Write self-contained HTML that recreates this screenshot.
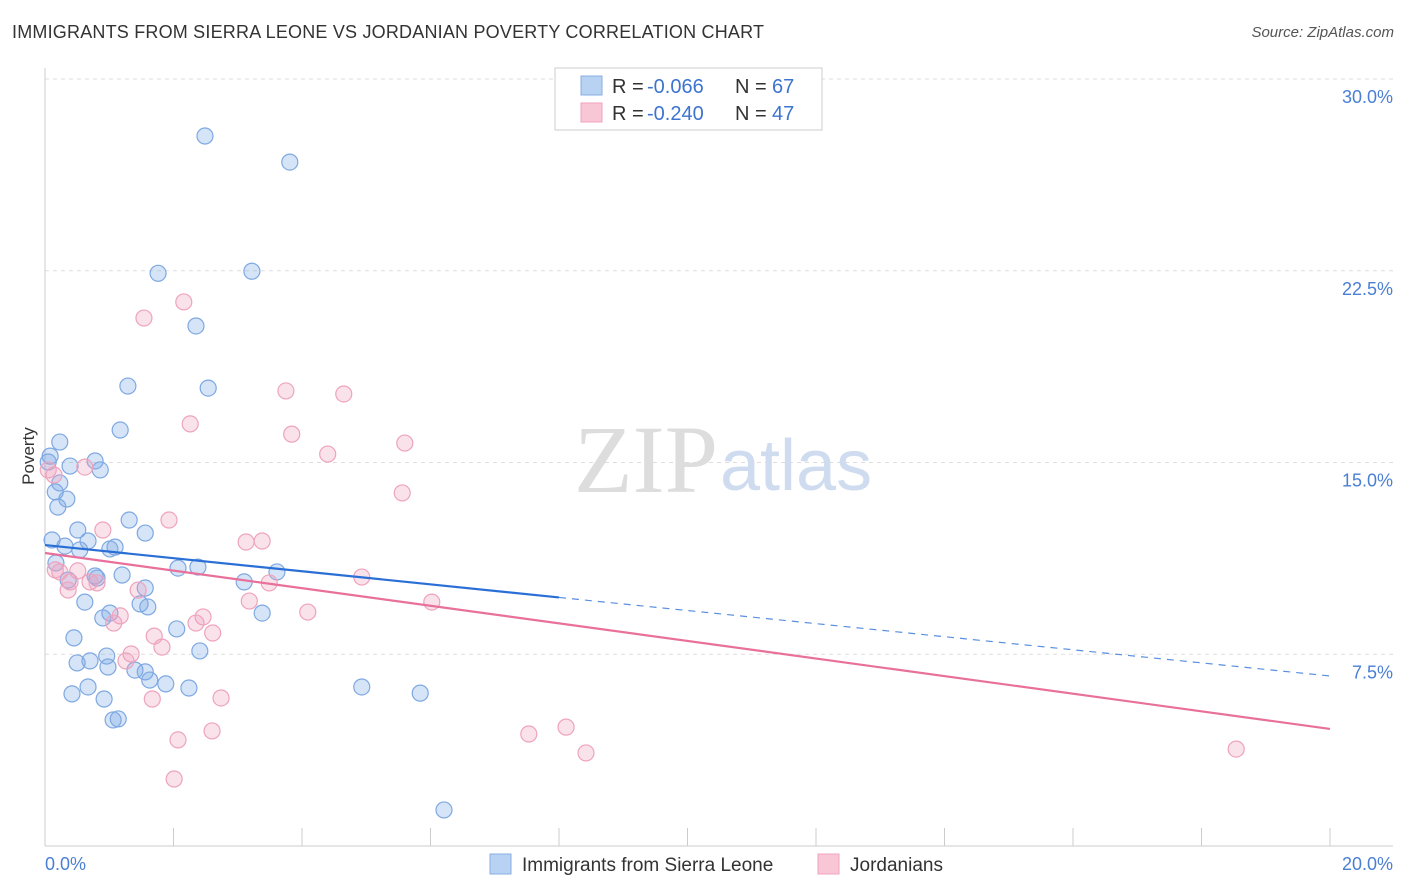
<!DOCTYPE html>
<html><head><meta charset="utf-8">
<style>
body{margin:0;background:#fff;font-family:"Liberation Sans",sans-serif;}
#wrap{position:relative;width:1406px;height:892px;overflow:hidden;}
.t{position:absolute;white-space:nowrap;}
</style></head>
<body>
<div id="wrap">
<div class="t" style="left:12px;top:22px;font-size:18px;color:#333;letter-spacing:0.2px">IMMIGRANTS FROM SIERRA LEONE VS JORDANIAN POVERTY CORRELATION CHART</div>
<div class="t" style="right:12px;top:24px;font-size:15px;color:#555;font-style:italic">Source: ZipAtlas.com</div>
<svg id="svg" width="1406" height="892" style="position:absolute;left:0;top:0"></svg>
</div>
<script>
const blueX=[2.49,3.81,1.76,3.22,2.35,1.29,2.54,1.17,0.23,0.08,0.05,0.78,0.39,0.86,0.23,0.16,0.34,0.20,1.31,0.51,1.56,0.11,0.67,0.31,1.09,1.01,0.54,0.17,2.07,2.38,1.20,0.78,0.81,0.36,3.10,3.61,1.56,0.62,1.48,1.60,1.01,0.90,3.38,2.05,0.45,2.41,0.96,0.50,0.70,0.98,1.40,1.56,1.63,1.88,0.67,2.24,0.42,4.93,5.84,0.92,1.14,1.06,6.21];
const blueY=[27.77,26.75,22.40,22.48,20.34,17.99,17.91,16.27,15.80,15.25,15.02,15.06,14.86,14.71,14.20,13.85,13.57,13.26,12.75,12.36,12.24,11.97,11.93,11.73,11.69,11.62,11.58,11.07,10.87,10.91,10.60,10.56,10.48,10.40,10.33,10.72,10.09,9.54,9.47,9.35,9.11,8.92,9.11,8.49,8.14,7.63,7.43,7.16,7.24,7.00,6.88,6.81,6.49,6.34,6.22,6.18,5.95,6.22,5.98,5.75,4.97,4.93,1.41];
const pinkX=[0.14,0.62,0.90,1.93,2.16,1.54,3.75,4.65,3.84,2.26,5.60,4.40,5.56,3.13,3.38,0.16,0.23,0.51,0.39,0.36,0.70,0.81,1.45,3.49,4.93,3.18,4.09,6.02,1.17,1.07,2.46,2.35,2.61,1.70,1.82,1.34,1.26,1.67,2.74,2.07,2.60,2.01,7.53,8.11,8.42,18.54,0.05];
const pinkY=[14.51,14.82,12.36,12.75,21.28,20.65,17.80,17.68,16.11,16.51,15.76,15.33,13.81,11.89,11.93,10.80,10.72,10.76,10.33,10.01,10.33,10.29,10.01,10.29,10.52,9.58,9.15,9.54,9.00,8.72,8.96,8.72,8.33,8.21,7.78,7.51,7.24,5.75,5.79,4.15,4.50,2.62,4.38,4.65,3.64,3.79,14.71];
const yTicks=[7.5,15,22.5,30];
const yTickLabels=["7.5%","15.0%","22.5%","30.0%"];
const xTicks=[0,2,4,6,8,10,12,14,16,18,20];
const blueTrend=[11.77,6.65]; const blueSolidEnd=8;
const pinkTrend=[11.46,4.58];

const X=v=>45+v/20*1285, Y=v=>846-v/30*767;
const svg=document.getElementById('svg');const NS='http://www.w3.org/2000/svg';
function mk(t,a,name){const e=document.createElementNS(NS,t);for(const k in a)e.setAttribute(k,a[k]);


svg.appendChild(e);return e;}
yTicks.forEach((v,i)=>{
mk('line',{x1:45,x2:1393,y1:Y(v),y2:Y(v),stroke:'#ddd','stroke-dasharray':'4,4'},'y-gridline');
const t=mk('text',{x:1393,y:Y(v)+24,'text-anchor':'end','font-size':18,fill:'#4a7fd4'},'y-tick-label');t.textContent=yTickLabels[i];});
mk('line',{x1:45,x2:45,y1:68,y2:846,stroke:'#ccc'},'y-axis');
mk('line',{x1:45,x2:1393,y1:846,y2:846,stroke:'#ccc'},'x-axis');
xTicks.forEach(v=>mk('line',{x1:X(v),x2:X(v),y1:828,y2:846,stroke:'#ccc'},'x-tick'));
let t=mk('text',{x:45,y:870,'font-size':18,fill:'#4a7fd4'},'x-tick-label');t.textContent='0.0%';
t=mk('text',{x:1393,y:870,'text-anchor':'end','font-size':18,fill:'#4a7fd4'},'x-tick-label');t.textContent='20.0%';
t=mk('text',{x:34,y:456,'font-size':17,fill:'#333','text-anchor':'middle',transform:'rotate(-90 34 456)'},'y-axis-title');t.textContent='Poverty';
t=mk('text',{x:718,y:492,'font-size':96,fill:'#ddd','font-family':'Liberation Serif','text-anchor':'end'},'watermark-zip');t.textContent='ZIP';
t=mk('text',{x:720,y:490,'font-size':72,fill:'#cfdcf0'},'watermark-atlas');t.textContent='atlas';
blueX.forEach((x,i)=>mk('circle',{cx:X(x),cy:Y(blueY[i]),r:8,fill:'rgba(120,165,230,0.3)',stroke:'#7ea8e2','stroke-width':1.2},'blue-point'));
pinkX.forEach((x,i)=>mk('circle',{cx:X(x),cy:Y(pinkY[i]),r:8,fill:'rgba(240,160,190,0.3)',stroke:'#eea3bd','stroke-width':1.2},'pink-point'));
const bAt=v=>blueTrend[0]+(blueTrend[1]-blueTrend[0])*v/20;
mk('line',{x1:X(0),y1:Y(blueTrend[0]),x2:X(blueSolidEnd),y2:Y(bAt(blueSolidEnd)),stroke:'#2a6fd6','stroke-width':2.2},'blue-trend-line');
mk('line',{x1:X(blueSolidEnd),y1:Y(bAt(blueSolidEnd)),x2:X(20),y2:Y(blueTrend[1]),stroke:'#5a8fe0','stroke-width':1.2,'stroke-dasharray':'7,6'},'blue-trend-dashed');
mk('line',{x1:X(0),y1:Y(pinkTrend[0]),x2:X(20),y2:Y(pinkTrend[1]),stroke:'#e8709a','stroke-width':2.2},'pink-trend-line');
// legend
mk('rect',{x:555,y:68,width:267,height:62,fill:'#fff',stroke:'#ccc'},'legend-box');
mk('rect',{x:581,y:76,width:21,height:19,fill:'#b8d2f4',stroke:'#88aee4'},'legend-blue-swatch');
mk('rect',{x:581,y:103,width:21,height:19,fill:'#f9c6d6',stroke:'#eea3bd'},'legend-pink-swatch');
function lt(x,y,s,c,n){const e=mk('text',{x:x,y:y,'font-size':20,fill:c},n);e.textContent=s;}
lt(612,93,'R = ','#333','legend-r-label');lt(647,93,'-0.066','#3d74d0','legend-r-blue');lt(735,93,'N = ','#333','legend-n-label');lt(772,93,'67','#3d74d0','legend-n-blue');
lt(612,120,'R = ','#333','legend-r-label');lt(647,120,'-0.240','#3d74d0','legend-r-pink');lt(735,120,'N = ','#333','legend-n-label');lt(772,120,'47','#3d74d0','legend-n-pink');
// bottom legend
mk('rect',{x:490,y:854,width:21,height:20,fill:'#b8d2f4',stroke:'#88aee4'},'bottom-legend-blue-swatch');
t=mk('text',{x:522,y:871,'font-size':19,fill:'#333'},'bottom-legend-blue-label');t.textContent='Immigrants from Sierra Leone';
mk('rect',{x:818,y:854,width:21,height:20,fill:'#f9c6d6',stroke:'#eea3bd'},'bottom-legend-pink-swatch');
t=mk('text',{x:850,y:871,'font-size':19,fill:'#333'},'bottom-legend-pink-label');t.textContent='Jordanians';
</script>
</body></html>
